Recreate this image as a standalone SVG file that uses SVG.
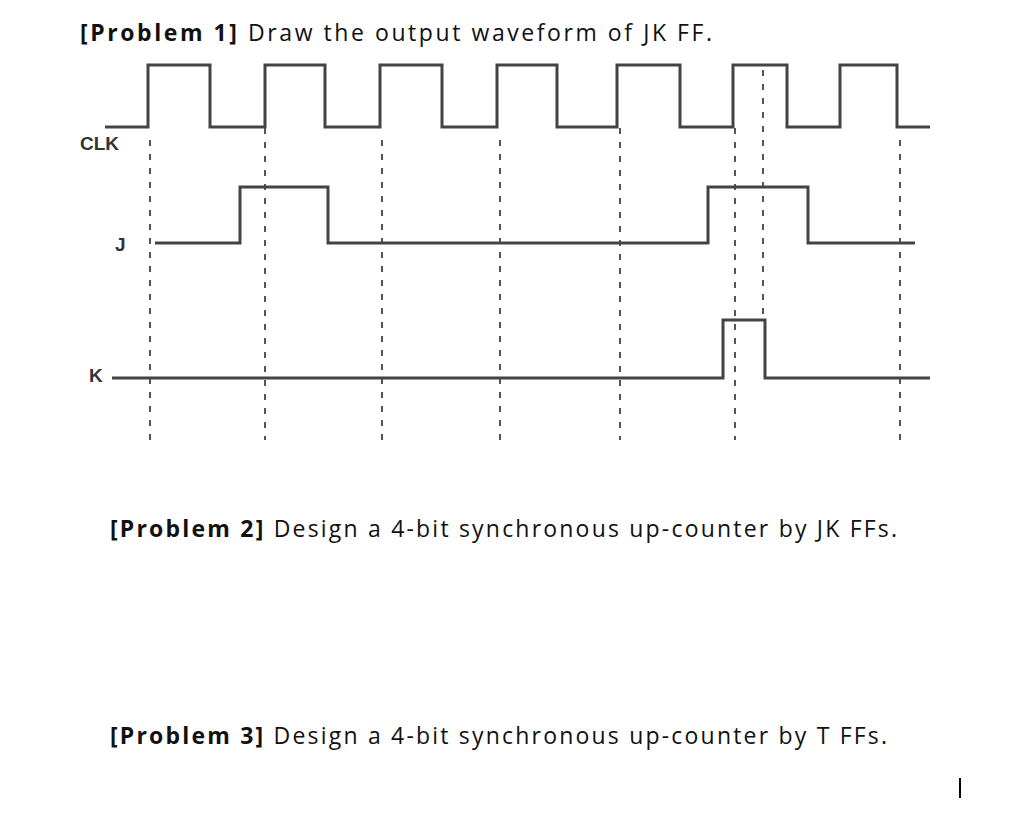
<svg xmlns="http://www.w3.org/2000/svg" width="1024" height="827" viewBox="0 0 1024 827">
<style>
.t{font-family:"Open Sans","Liberation Sans",sans-serif;font-size:23px;fill:#111}
.b{font-weight:bold}
.w{fill:none;stroke:#444;stroke-width:3}
.d{fill:none;stroke:#555;stroke-width:2;stroke-dasharray:6 8}
.l{font-family:"Liberation Sans",Arial,sans-serif;font-size:19px;font-weight:bold;fill:#333}
</style>
<rect width="1024" height="827" fill="#fff"/>
<text class="t" x="80" y="41" textLength="632" lengthAdjust="spacing"><tspan class="b">[Problem 1]</tspan> Draw the output waveform of JK FF.</text>
<g id="guides">
<line class="d" x1="150" y1="140" x2="150" y2="440"/>
<line class="d" x1="265" y1="128" x2="265" y2="440"/>
<line class="d" x1="382" y1="140" x2="382" y2="440"/>
<line class="d" x1="500" y1="140" x2="500" y2="440"/>
<line class="d" x1="620" y1="128" x2="620" y2="440"/>
<line class="d" x1="735" y1="128" x2="735" y2="440"/>
<line class="d" x1="763" y1="70" x2="763" y2="320"/>
<line class="d" x1="900" y1="140" x2="900" y2="440"/>
</g>
<g id="clk">
<text class="l" x="80" y="150">CLK</text>
<polyline class="w" points="105,127 148,127 148,65 210,65 210,127 265,127 265,65 325,65 325,127 380,127 380,65 442,65 442,127 497,127 497,65 557,65 557,127 617,127 617,65 680,65 680,127 733,127 733,65 787,65 787,127 840,127 840,65 897,65 897,127 930,127"/>
</g>
<g id="j">
<text class="l" x="115" y="251">J</text>
<polyline class="w" points="155,243 240,243 240,187 328,187 328,243 708,243 708,187 808,187 808,243 915,243"/>
</g>
<g id="k">
<text class="l" x="89" y="382">K</text>
<polyline class="w" points="112,378 723,378 723,320 765,320 765,378 930,378"/>
</g>
<text class="t" x="110" y="537" textLength="787" lengthAdjust="spacing"><tspan class="b">[Problem 2]</tspan>  Design a 4-bit synchronous up-counter by JK FFs.</text>
<text class="t" x="110" y="744" textLength="777" lengthAdjust="spacing"><tspan class="b">[Problem 3]</tspan>  Design a 4-bit synchronous up-counter by T FFs.</text>
<line x1="960" y1="778" x2="960" y2="798" stroke="#000" stroke-width="2"/>
</svg>
